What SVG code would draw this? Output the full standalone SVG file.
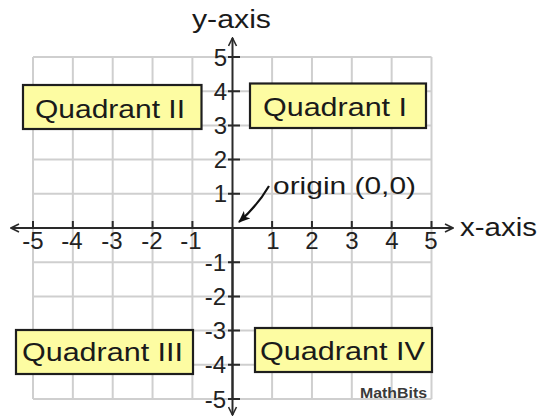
<svg xmlns="http://www.w3.org/2000/svg" width="540" height="416" viewBox="0 0 540 416">
<style>
.grid{stroke:#cfcfcf;stroke-width:2;fill:none}
.axis{stroke:#2a2a2a;stroke-width:2;fill:none}
.tick{stroke:#2a2a2a;stroke-width:2}
.num{font-family:"Liberation Sans",Arial,sans-serif;font-size:24px;fill:#222}
.lbl{font-family:"Liberation Sans",Arial,sans-serif;font-size:26px;fill:#1a1a1a}
.qbox{fill:#fdfca2;stroke:#1e1e1e;stroke-width:2.2}
.qtxt{font-family:"Liberation Sans",Arial,sans-serif;font-size:25px;fill:#1a1a1a}
</style>
<defs>
<marker id="open" viewBox="0 0 10 10" refX="9" refY="5" markerWidth="10" markerHeight="10" markerUnits="userSpaceOnUse" orient="auto">
<path d="M1,1 L9,5 L1,9" fill="none" stroke="#2a2a2a" stroke-width="1.6"/>
</marker>
<marker id="solid" viewBox="0 0 12 10" refX="11" refY="5" markerWidth="12" markerHeight="10" markerUnits="userSpaceOnUse" orient="auto">
<path d="M0,0 L12,5 L0,10 L3,5 Z" fill="#111"/>
</marker>
</defs>
<rect width="540" height="416" fill="#fff"/>
<g id="grid" class="grid">
<path d="M33,57V399M72.85,57V399M112.7,57V399M152.55,57V399M192.4,57V399M272.1,57V399M311.95,57V399M351.8,57V399M391.65,57V399M431.5,57V399"/>
<path d="M33,57H431.5M33,91.2H431.5M33,125.4H431.5M33,159.6H431.5M33,193.8H431.5M33,262.2H431.5M33,296.4H431.5M33,330.6H431.5M33,364.8H431.5M33,399H431.5"/>
</g>
<g id="axes">
<path class="axis" d="M232.5,399V38" marker-end="url(#open)"/>
<path class="axis" d="M232.5,228V415" marker-end="url(#open)"/>
<path class="axis" d="M232.5,228H11" marker-end="url(#open)"/>
<path class="axis" d="M232.5,228H453" marker-end="url(#open)"/>
<path class="tick" d="M33,221V228M72.85,221V228M112.7,221V228M152.55,221V228M192.4,221V228M272.1,221V228M311.95,221V228M351.8,221V228M391.65,221V228M431.5,221V228"/>
<path class="tick" d="M228,57H240M228,91.2H240M228,125.4H240M228,159.6H240M228,193.8H240M228,262.2H240M228,296.4H240M228,330.6H240M228,364.8H240M228,399H240"/>
</g>
<g id="x-labels" class="num" text-anchor="middle">
<text x="33" y="249">-5</text>
<text x="72" y="249">-4</text>
<text x="112" y="249">-3</text>
<text x="152" y="249">-2</text>
<text x="191" y="249">-1</text>
<text x="273" y="249">1</text>
<text x="312" y="249">2</text>
<text x="352" y="249">3</text>
<text x="392" y="249">4</text>
<text x="431" y="249">5</text>
</g>
<g id="y-labels" class="num" text-anchor="end">
<text x="227" y="65.5">5</text>
<text x="227" y="99.7">4</text>
<text x="227" y="133.9">3</text>
<text x="227" y="168.1">2</text>
<text x="227" y="202.3">1</text>
<text x="226" y="270.7">-1</text>
<text x="226" y="304.9">-2</text>
<text x="226" y="339.1">-3</text>
<text x="226" y="373.3">-4</text>
<text x="226" y="407.5">-5</text>
</g>
<g id="axis-titles" class="lbl">
<text x="192" y="28" textLength="79" lengthAdjust="spacingAndGlyphs">y-axis</text>
<text x="460" y="236" textLength="77" lengthAdjust="spacingAndGlyphs">x-axis</text>
</g>
<g id="quadrant-1">
<rect class="qbox" x="250" y="83.5" width="176" height="44.5"/>
<text class="qtxt" x="263" y="116" textLength="144" lengthAdjust="spacingAndGlyphs">Quadrant I</text>
</g>
<g id="quadrant-2">
<rect class="qbox" x="23" y="85" width="178.5" height="44"/>
<text class="qtxt" x="35" y="118" textLength="150" lengthAdjust="spacingAndGlyphs">Quadrant II</text>
</g>
<g id="quadrant-3">
<rect class="qbox" x="16" y="330" width="177" height="44"/>
<text class="qtxt" x="22" y="361" textLength="161" lengthAdjust="spacingAndGlyphs">Quadrant III</text>
</g>
<g id="quadrant-4">
<rect class="qbox" x="255" y="328" width="177" height="44"/>
<text class="qtxt" x="260" y="360" textLength="165" lengthAdjust="spacingAndGlyphs">Quadrant IV</text>
</g>
<g id="origin">
<text x="273" y="194" font-family="Liberation Sans, Arial, sans-serif" font-size="24" fill="#1a1a1a" textLength="143" lengthAdjust="spacingAndGlyphs">origin (0,0)</text>
</g>
<g id="connectors">
<path d="M269,186 Q258,205 239,222" fill="none" stroke="#111" stroke-width="2.2" marker-end="url(#solid)"/>
</g>
<g id="credit">
<text x="360" y="398" font-family="Liberation Sans, Arial, sans-serif" font-size="14" font-weight="bold" fill="#3a3a3a" textLength="67" lengthAdjust="spacingAndGlyphs">MathBits</text>
</g>
</svg>
